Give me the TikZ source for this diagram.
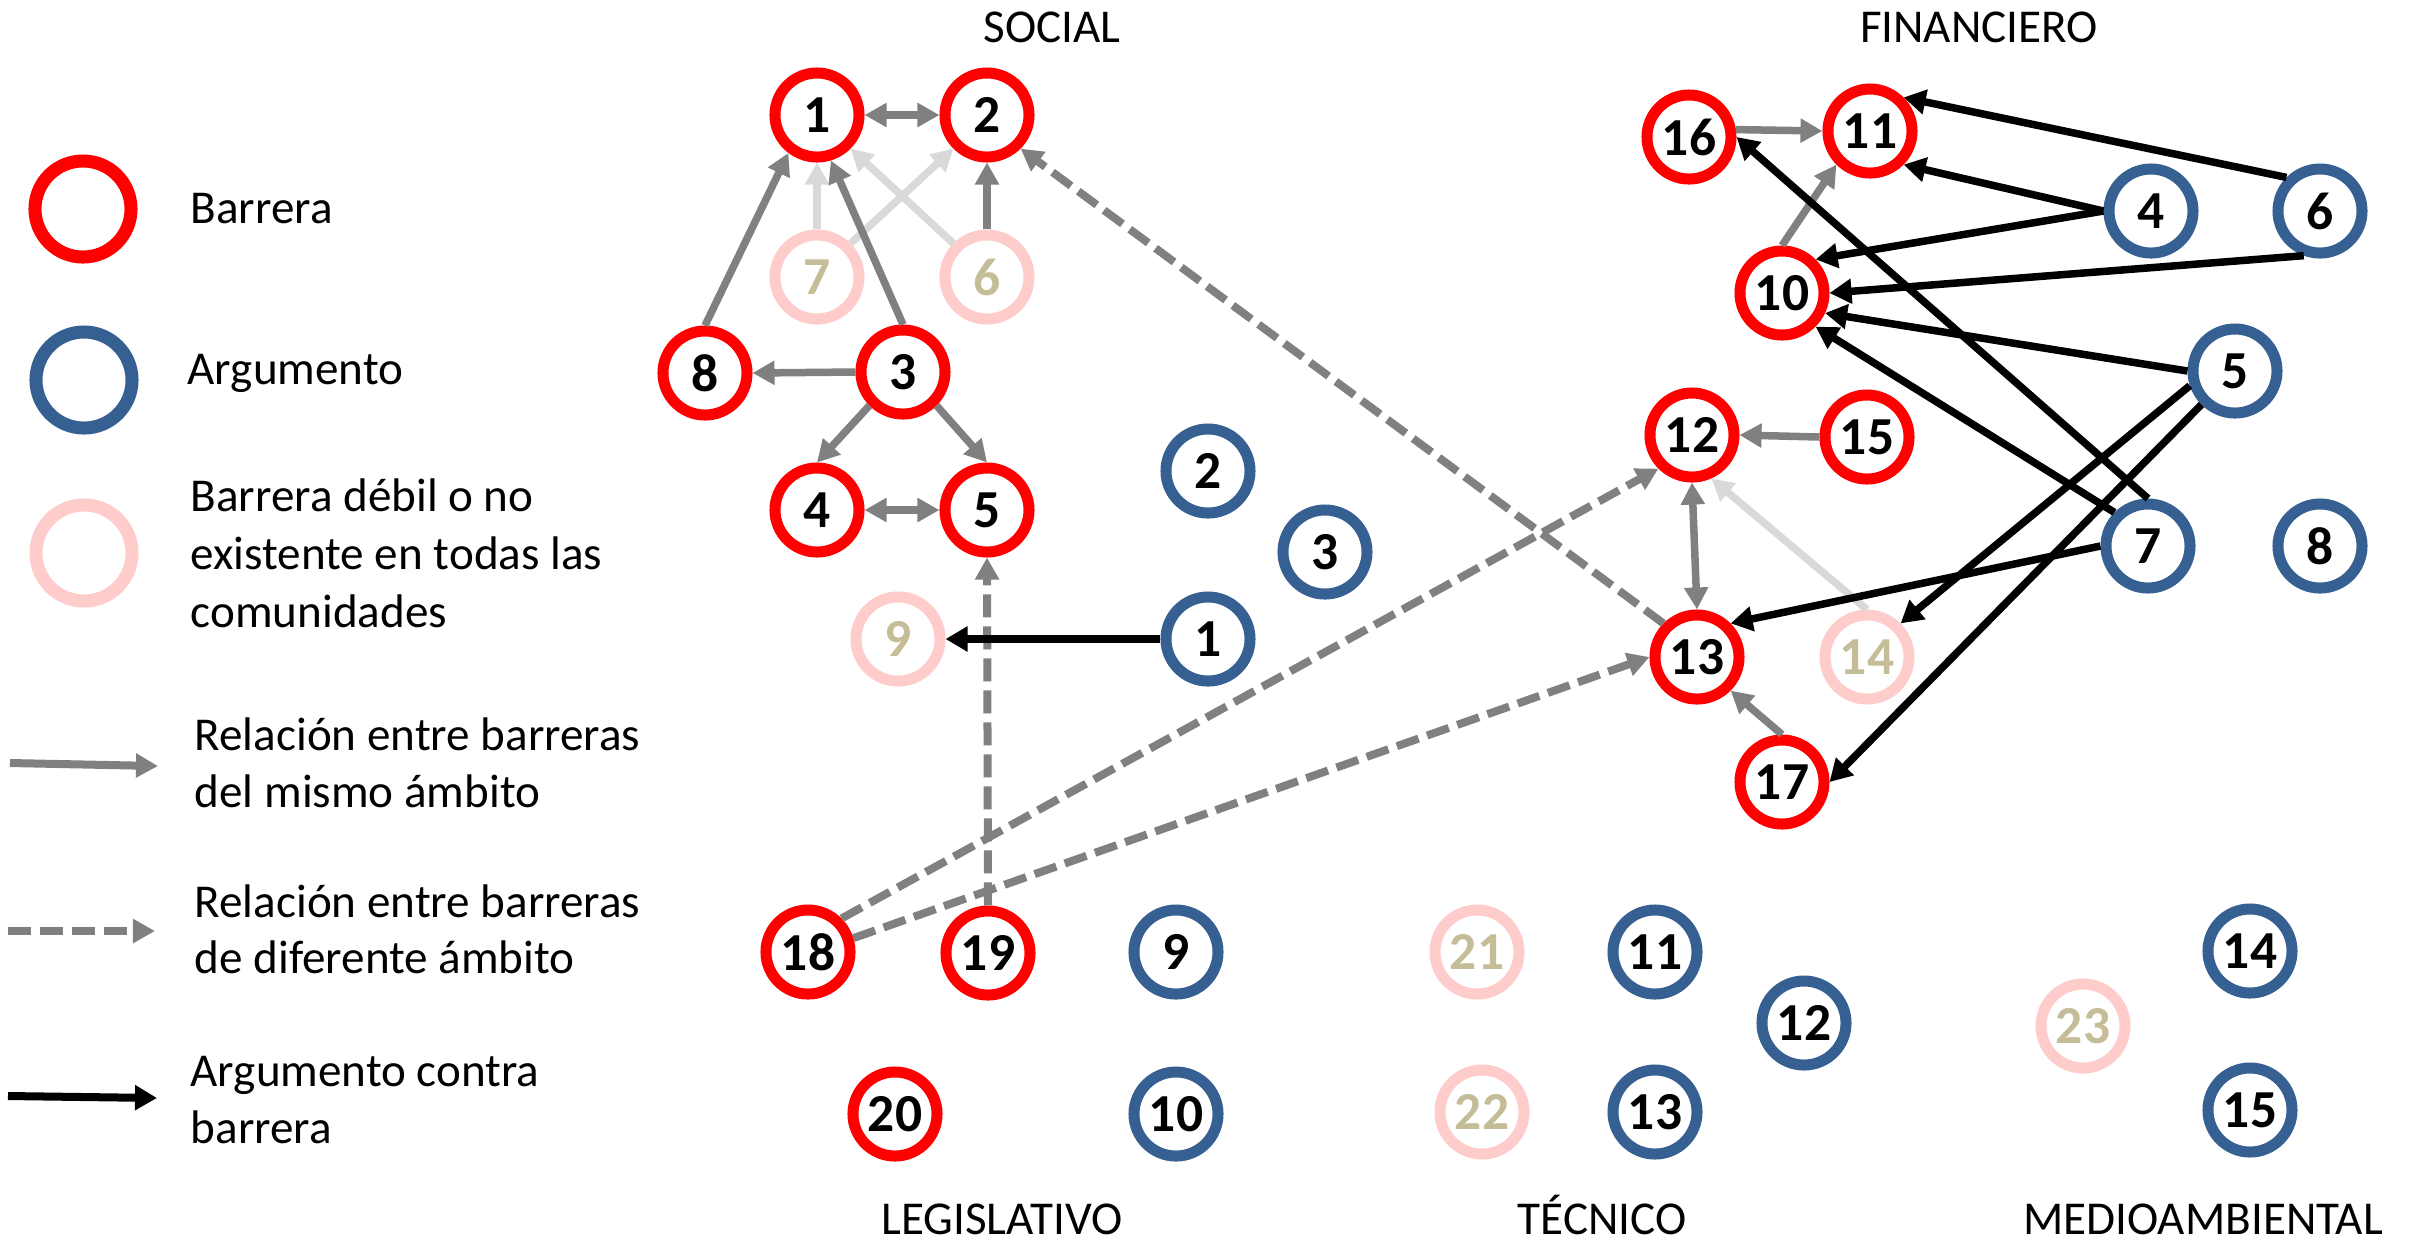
\documentclass[tikz,border=0pt]{standalone}
\usepackage{fontspec}
\setmainfont{Carlito}
\usetikzlibrary{arrows.meta}
\definecolor{cred}{HTML}{FF0000}
\definecolor{cblue}{HTML}{376092}
\definecolor{cpink}{HTML}{FFCCCC}
\definecolor{ctan}{HTML}{C4BD97}
\definecolor{cgray}{HTML}{808080}
\definecolor{clight}{HTML}{D9D9D9}
\begin{document}
\begin{tikzpicture}[x=0.01cm,y=-0.01cm,
  nd/.style={circle, minimum size=0.84cm, inner sep=0pt, line width=0.11cm, fill=white,
    font=\fontsize{15.2}{17}\selectfont\bfseries},
  bar/.style={nd, draw=cred},
  arg/.style={nd, draw=cblue},
  weak/.style={nd, draw=cpink, text=ctan},
  legc/.style={circle, minimum size=0.96cm, inner sep=0pt, line width=0.13cm},
  tx/.style={anchor=base west, inner sep=0pt, font=\fontsize{13.4}{16}\selectfont},
  ttl/.style={anchor=base, inner sep=0pt, font=\fontsize{13.4}{16}\selectfont},
  ga/.style={draw=cgray, line width=0.075cm, -{Triangle[length=0.22cm,width=0.23cm]}},
  gaa/.style={draw=cgray, line width=0.075cm, {Triangle[length=0.22cm,width=0.23cm]}-{Triangle[length=0.22cm,width=0.23cm]}},
  la/.style={draw=clight, line width=0.075cm, -{Triangle[length=0.22cm,width=0.23cm]}},
  da/.style={draw=cgray, line width=0.08cm, dash pattern=on 0.23cm off 0.09cm, -{Triangle[length=0.22cm,width=0.23cm]}},
  ba/.style={draw=black, line width=0.075cm, -{Triangle[length=0.22cm,width=0.24cm]}}
]
\useasboundingbox (0,0) rectangle (2417,1244);

% titles
\node[ttl] (tSoc) at (1052,42) {SOCIAL};
\node[ttl] (tFin) at (1979,42) {FINANCIERO};
\node[ttl] (tLeg) at (1002,1234) {LEGISLATIVO};
\node[ttl] (tTec) at (1602,1234) {TÉCNICO};
\node[ttl] (tMed) at (2203,1234) {MEDIOAMBIENTAL};

% legend
\node[legc, draw=cred] (LB) at (83,209) {};
\node[legc, draw=cblue] (LA) at (84,380) {};
\node[legc, draw=cpink] (LW) at (84,553) {};
\node[tx] (tB) at (190,223) {Barrera};
\node[tx] (tA) at (187,384) {Argumento};
\node[tx] (tW1) at (190,511) {Barrera débil o no};
\node[tx] (tW2) at (190,569) {existente en todas las};
\node[tx] (tW3) at (190,627) {comunidades};
\coordinate (g1) at (10,763); \coordinate (g2) at (158,766);
\coordinate (d1) at (8,931); \coordinate (d2) at (155,931);
\coordinate (b1) at (8,1096); \coordinate (b2) at (157,1098);
\draw[ga, line width=0.08cm] (g1) -- (g2);
\draw[da] (d1) -- (d2);
\draw[ba, line width=0.08cm] (b1) -- (b2);
\node[tx] (tR1) at (194,750) {Relación entre barreras};
\node[tx] (tR2) at (194,807) {del mismo ámbito};
\node[tx] (tD1) at (194,917) {Relación entre barreras};
\node[tx] (tD2) at (194,973) {de diferente ámbito};
\node[tx] (tC1) at (190,1086) {Argumento contra};
\node[tx] (tC2) at (190,1143) {barrera};

% social
\node[bar] (S1) at (817,115) {1};
\node[bar] (S2) at (987,115) {2};
\node[weak] (S7) at (817,277) {7};
\node[weak] (S6) at (987,277) {6};
\node[bar] (S8) at (705,373) {8};
\node[bar] (S3) at (903,372) {3};
\node[bar] (S4) at (817,510) {4};
\node[bar] (S5) at (987,510) {5};
\node[weak] (S9) at (898,639) {9};
\node[arg] (A2) at (1208,471) {2};
\node[arg] (A3) at (1325,552) {3};
\node[arg] (A1) at (1208,639) {1};

% financiero
\node[bar] (F16) at (1689,137) {16};
\node[bar] (F11) at (1870,131) {11};
\node[bar] (F10) at (1782,293) {10};
\node[arg] (A4) at (2151,211) {4};
\node[arg] (A6) at (2320,211) {6};
\node[arg] (A5) at (2235,371) {5};
\node[bar] (F12) at (1692,435) {12};
\node[bar] (F15) at (1867,437) {15};
\node[arg] (A7) at (2148,546) {7};
\node[arg] (A8) at (2320,546) {8};
\node[bar] (F13) at (1697,657) {13};
\node[weak] (F14) at (1867,657) {14};
\node[bar] (F17) at (1782,782) {17};

% legislativo
\node[bar] (L18) at (808,952) {18};
\node[bar] (L19) at (988,953) {19};
\node[arg] (A9) at (1176,952) {9};
\node[bar] (L20) at (895,1114) {20};
\node[arg] (A10) at (1176,1114) {10};

% tecnico
\node[weak] (T21) at (1477,952) {21};
\node[arg] (A11) at (1655,952) {11};
\node[arg] (A12) at (1804,1023) {12};
\node[weak] (T22) at (1482,1112) {22};
\node[arg] (A13) at (1655,1112) {13};

% medioambiental
\node[weak] (M23) at (2083,1026) {23};
\node[arg] (A14) at (2250,951) {14};
\node[arg] (A15) at (2250,1110) {15};

% light relations
\draw[la] (S7.north) -- (S1.south);
\draw[la] (S7.north east) -- (S2.south west);
\draw[la] (S6.north west) -- (S1.south east);
\draw[la] (F14.north) -- (F12.294);

% gray relations
\draw[gaa] (S1) -- (S2);
\draw[ga] (S8.north) -- (S1.233);
\draw[ga] (S3.north) -- (S1.287);
\draw[ga] (S6.north) -- (S2.south);
\draw[ga] (S3.west) -- (S8.east);
\draw[ga] (S3.south west) -- (S4.north);
\draw[ga] (S3.south east) -- (S5.north);
\draw[gaa] (S4) -- (S5);
\draw[ga] (F16.9) -- (F11.west);
\draw[ga] (F10.north) -- (F11.south west);
\draw[ga] (F15.west) -- (F12.east);
\draw[gaa] (F12.south) -- (F13.north);
\draw[ga] (F17.north) -- (F13.south east);

% dashed relations
\draw[da] (L19.north) -- (S5.south);
\draw[da] (F13.north west) -- (S2.south east);
\draw[da] (L18.north east) -- (F12.south west);
\draw[da] (L18.17) -- (F13.west);

% arguments
\draw[ba] (A1.west) -- (S9.east);
\draw[ba] (A6.north west) -- (F11.north east);
\draw[ba] (A4.west) -- (F11.south east);
\draw[ba] (A4.west) -- (F10.north east);
\draw[ba] (A6.250) -- (F10.east);
\draw[ba] (A5.west) -- (F10.335);
\draw[ba] (A7.north west) -- (F10.south east);
\draw[ba] (A7.north) -- (F16.east);
\draw[ba] (A7.west) -- (F13.north east);
\draw[ba] (A5.198) -- (F14.north east);
\draw[ba] (A5.south west) -- (F17.east);
\end{tikzpicture}
\end{document}
